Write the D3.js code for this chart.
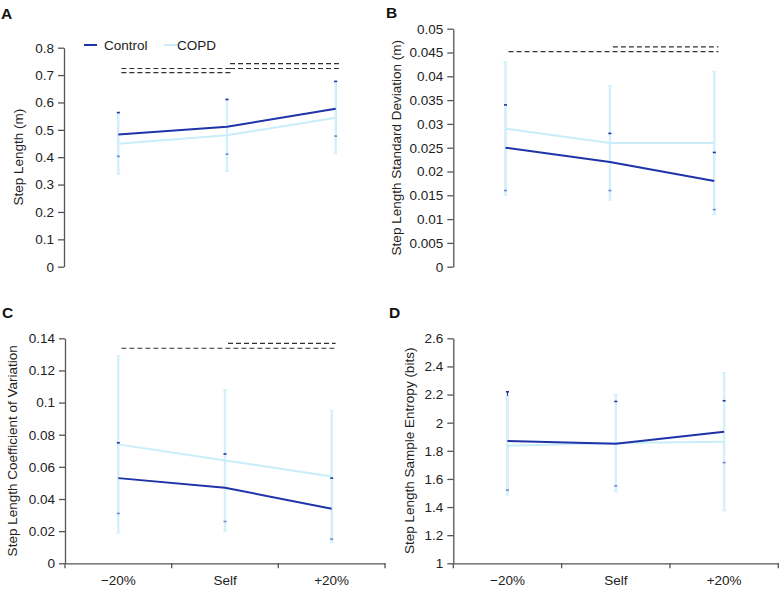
<!DOCTYPE html>
<html><head><meta charset="utf-8">
<script src="https://cdn.jsdelivr.net/npm/d3@7"></script>
<style>
html,body{margin:0;padding:0;background:#fff;}
svg{display:block;font-family:"Liberation Sans",Arial,Helvetica,sans-serif;}
</style></head>
<body>
<svg id="chart" width="780" height="590"></svg>
<script>
// ---------- data ----------
const categories = ["\u221220%", "Self", "+20%"];
const seriesNames = ["Control", "COPD"];

// A: Step Length (m)
const controlMeanA = [0.483, 0.511, 0.577];
const controlSdA   = [0.080, 0.100, 0.100];
const copdMeanA    = [0.449, 0.480, 0.544];
const copdSdA      = [0.111, 0.131, 0.131];
const ticksA = [0, 0.1, 0.2, 0.3, 0.4, 0.5, 0.6, 0.7, 0.8];
const sigA = [[0, 1, 0.724], [0, 1, 0.709], [1, 2, 0.742], [1, 2, 0.724]];

// B: Step Length Standard Deviation (m)
const controlMeanB = [0.025, 0.022, 0.018];
const controlSdB   = [0.009, 0.006, 0.006];
const copdMeanB    = [0.029, 0.026, 0.026];
const copdSdB      = [0.014, 0.012, 0.015];
const ticksB = [0, 0.005, 0.01, 0.015, 0.02, 0.025, 0.03, 0.035, 0.04, 0.045, 0.05];
const sigB = [[0, 2, 0.0452], [1, 2, 0.0462]];

// C: Step Length Coefficient of Variation
const controlMeanC = [0.053, 0.047, 0.034];
const controlSdC   = [0.022, 0.021, 0.019];
const copdMeanC    = [0.074, 0.064, 0.054];
const copdSdC      = [0.055, 0.044, 0.041];
const ticksC = [0, 0.02, 0.04, 0.06, 0.08, 0.1, 0.12, 0.14];
const sigC = [[0, 2, 0.1338], [1, 2, 0.1369]];

// D: Step Length Sample Entropy (bits)
const controlMeanD = [1.870, 1.851, 1.936];
const controlSdD   = [0.350, 0.300, 0.220];
const copdMeanD    = [1.836, 1.855, 1.865];
const copdSdD      = [0.350, 0.345, 0.490];
const ticksD = [1, 1.2, 1.4, 1.6, 1.8, 2, 2.2, 2.4, 2.6];
const sigD = [];

// ---------- styles ----------
const DARK = "#1f33a8";
const LIGHT = "#c9eef9";
const BAR = "#d4f1fb";
const AXIS = "#555";
const TEXT = "#222";

const svg = d3.select("#chart");

function panel(o) {
  const g = svg.append("g");
  const x = d3.scaleBand().domain(categories).range([o.x0, o.x1]).padding(0);
  const y = d3.scaleLinear().domain(o.domain).range([o.yb, o.yt]);
  const cx = i => x(categories[i]) + x.bandwidth() / 2;

  // y axis
  const ya = g.append("g").attr("transform", `translate(${o.x0},0)`)
    .call(d3.axisLeft(y).tickValues(o.ticks).tickSize(6).tickSizeOuter(0).tickPadding(4)
      .tickFormat(d => d3.format("")(+d.toFixed(4))));
  ya.select(".domain").attr("stroke", AXIS).attr("stroke-width", 1.3);
  ya.selectAll(".tick line").attr("stroke", AXIS).attr("stroke-width", 1.3);
  ya.selectAll(".tick text").attr("fill", TEXT).style("font-size", "13.5px")
    .style("font-family", "Liberation Sans, Arial, sans-serif");

  // x axis
  if (o.xaxis) {
    const xa = g.append("g").attr("transform", `translate(0,${o.yb})`)
      .call(d3.axisBottom(x).tickSize(0).tickPadding(12));
    xa.select(".domain").attr("stroke", AXIS).attr("stroke-width", 1.3);
    xa.selectAll(".tick text").attr("fill", TEXT).style("font-size", "13.5px")
      .style("font-family", "Liberation Sans, Arial, sans-serif");
    const bounds = categories.map(c => x(c)).concat([o.x1]);
    g.selectAll(".xt").data(bounds).enter().append("line")
      .attr("x1", d => d).attr("x2", d => d)
      .attr("y1", o.yb).attr("y2", o.yb + 5)
      .attr("stroke", AXIS).attr("stroke-width", 1.3);
  }

  // y label
  g.append("text")
    .attr("transform", `translate(${o.labelX},${(o.yb + o.yt) / 2}) rotate(-90)`)
    .attr("text-anchor", "middle").attr("dominant-baseline", "central")
    .attr("fill", TEXT).style("font-size", "13.5px").text(o.label);

  // panel letter
  g.append("text").attr("x", o.letterX).attr("y", o.letterY)
    .attr("fill", "#111").style("font-size", "15.5px").style("font-weight", "bold").text(o.letter);

  // significance dashed lines
  g.selectAll(".sig").data(o.sig).enter().append("line")
    .attr("x1", d => cx(d[0]) + 3).attr("x2", d => cx(d[1]) + 4)
    .attr("y1", d => y(d[2])).attr("y2", d => y(d[2]))
    .attr("stroke", "#333").attr("stroke-width", 1.2).attr("stroke-dasharray", "5,3");

  const idx = [0, 1, 2];
  // control error bars (under)
  g.selectAll(".ebc").data(idx).enter().append("line")
    .attr("x1", cx).attr("x2", cx)
    .attr("y1", i => y(o.cm[i] + o.cs[i])).attr("y2", i => y(o.cm[i] - o.cs[i]))
    .attr("stroke", DARK).attr("stroke-width", 1.2);
  // COPD error bars
  g.selectAll(".ebp").data(idx).enter().append("line")
    .attr("x1", cx).attr("x2", cx)
    .attr("y1", i => y(o.pm[i] + o.ps[i])).attr("y2", i => y(o.pm[i] - o.ps[i]))
    .attr("stroke", BAR).attr("stroke-width", 2.4);
  // COPD caps
  idx.forEach(i => {
    [o.pm[i] + o.ps[i], o.pm[i] - o.ps[i]].forEach(v => {
      g.append("line").attr("x1", cx(i) - 2).attr("x2", cx(i) + 2)
        .attr("y1", y(v)).attr("y2", y(v)).attr("stroke", BAR).attr("stroke-width", 1.5);
    });
  });

  // mean lines
  const line = d3.line().x((d, i) => cx(i)).y(d => y(d));
  g.append("path").datum(o.pm).attr("d", line).attr("fill", "none")
    .attr("stroke", LIGHT).attr("stroke-width", 2);
  g.append("path").datum(o.cm).attr("d", line).attr("fill", "none")
    .attr("stroke", DARK).attr("stroke-width", 2);

  // control caps
  idx.forEach(i => {
    [[o.cm[i] + o.cs[i], 1], [o.cm[i] - o.cs[i], 0.55]].forEach(([v, op]) => {
      g.append("line").attr("x1", cx(i) - 1.5).attr("x2", cx(i) + 1.5)
        .attr("y1", y(v)).attr("y2", y(v)).attr("stroke", DARK)
        .attr("stroke-opacity", op).attr("stroke-width", 1.6);
    });
  });

  // legend
  if (o.legend) {
    const lg = g.append("g");
    const items = [[seriesNames[0], DARK, 84, 104], [seriesNames[1], LIGHT, 164, 177]];
    items.forEach(([name, col, lx, tx]) => {
      lg.append("line").attr("x1", lx).attr("x2", lx + 13).attr("y1", 45).attr("y2", 45)
        .attr("stroke", col).attr("stroke-width", 2);
      lg.append("text").attr("x", tx).attr("y", 50).attr("fill", TEXT)
        .style("font-size", "13.5px").text(name);
    });
  }
}

panel({letter: "A", letterX: 1, letterY: 19, x0: 64, x1: 390, yt: 47.7, yb: 266.7,
  domain: [0, 0.8], ticks: ticksA, label: "Step Length (m)", labelX: 18,
  cm: controlMeanA, cs: controlSdA, pm: copdMeanA, ps: copdSdA, sig: sigA, legend: true, xaxis: false});
panel({letter: "B", letterX: 386, letterY: 18, x0: 453.3, x1: 766.5, yt: 28.7, yb: 266.7,
  domain: [0, 0.05], ticks: ticksB, label: "Step Length Standard Deviation (m)", labelX: 396,
  cm: controlMeanB, cs: controlSdB, pm: copdMeanB, ps: copdSdB, sig: sigB, legend: false, xaxis: false});
panel({letter: "C", letterX: 2, letterY: 318, x0: 65, x1: 385, yt: 338.3, yb: 563.3,
  domain: [0, 0.14], ticks: ticksC, label: "Step Length Coefficient of Variation", labelX: 12.5,
  cm: controlMeanC, cs: controlSdC, pm: copdMeanC, ps: copdSdC, sig: sigC, legend: false, xaxis: true});
panel({letter: "D", letterX: 389, letterY: 318, x0: 453.3, x1: 778.3, yt: 338.3, yb: 563.3,
  domain: [1, 2.6], ticks: ticksD, label: "Step Length Sample Entropy (bits)", labelX: 409.5,
  cm: controlMeanD, cs: controlSdD, pm: copdMeanD, ps: copdSdD, sig: sigD, legend: false, xaxis: true});
</script>
</body></html>
